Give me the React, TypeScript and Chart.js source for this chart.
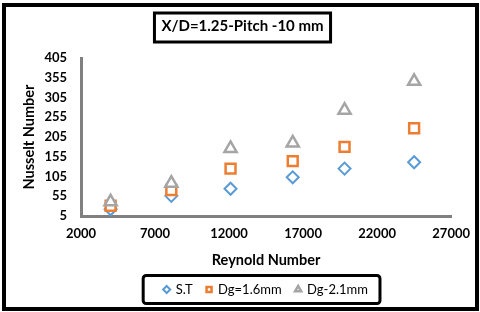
import React, { useEffect, useRef } from "react";
import { Chart, registerables } from "chart.js";

Chart.register(...registerables);

const chartTitle = "X/D=1.25-Pitch -10 mm";
const xTitle = "Reynold Number";
const yTitle = "Nusselt Number";
const reynolds = [4000, 8100, 12100, 16300, 19800, 24500];
const seriesST = [22, 56, 74, 103, 125, 141];
const seriesDg16 = [31, 71, 125, 144, 180, 227];
const seriesDg21 = [41, 88, 176, 190, 273, 346];
const xTicks = [2000, 7000, 12000, 17000, 22000, 27000];
const yTicks = [5, 55, 105, 155, 205, 255, 305, 355, 405];

const FONT = "Lato, 'Open Sans', sans-serif";
const TITLE_SIZE = 15;

const boxesPlugin = {
  id: "boxes",
  afterDraw(chart: any) {
    const ctx = chart.ctx;
    ctx.save();
    ctx.strokeStyle = "#000";
    ctx.lineWidth = 4;
    ctx.strokeRect(4, 5, 473, 304);
    const tb = chart.titleBlock;
    if (tb) {
      ctx.font = `bold ${TITLE_SIZE}px ${FONT}`;
      const w = ctx.measureText(chartTitle).width;
      const cx = tb.left + tb.width / 2;
      ctx.lineWidth = 3;
      ctx.strokeRect(cx - w / 2 - 7, 13, w + 14, 29);
    }
    const lg = chart.legend;
    if (lg && lg.legendHitBoxes && lg.legendHitBoxes.length) {
      let l = Infinity, r = -Infinity, t = Infinity, b = -Infinity;
      lg.legendHitBoxes.forEach((h: any) => {
        l = Math.min(l, h.left);
        r = Math.max(r, h.left + h.width);
        t = Math.min(t, h.top);
        b = Math.max(b, h.top + h.height);
      });
      const cy = (t + b) / 2;
      ctx.lineWidth = 3;
      ctx.beginPath();
      (ctx as any).roundRect(l - 21, cy - 14, r - l + 33, 28, 3);
      ctx.stroke();
    }
    ctx.restore();
  },
};

export default function App() {
  const ref = useRef<HTMLCanvasElement | null>(null);
  useEffect(() => {
    const toPts = (ys: number[]) => ys.map((y, i) => ({ x: reynolds[i], y }));
    const chart = new Chart(ref.current as HTMLCanvasElement, {
      type: "scatter",
      data: {
        datasets: [
          {
            label: "S.T",
            data: toPts(seriesST),
            pointStyle: "rectRot",
            pointRadius: 6,
            borderColor: "#5B9BD5",
            backgroundColor: "#ffffff",
            borderWidth: 2,
            order: 3,
          },
          {
            label: "Dg=1.6mm",
            data: toPts(seriesDg16),
            pointStyle: "rect",
            pointRadius: 7,
            borderColor: "#ED7D31",
            backgroundColor: "#ffffff",
            borderWidth: 2.5,
            order: 2,
          },
          {
            label: "Dg-2.1mm",
            data: toPts(seriesDg21),
            pointStyle: "triangle",
            pointRadius: 7,
            borderColor: "#A5A5A5",
            backgroundColor: "#ffffff",
            borderWidth: 2.5,
            order: 1,
          },
        ],
      },
      options: {
        animation: false,
        responsive: false,
        layout: { padding: { left: 21, right: 16, top: 0, bottom: 6 } },
        plugins: {
          title: {
            display: true,
            text: chartTitle,
            color: "#000",
            font: { family: FONT, size: TITLE_SIZE, weight: "bold" },
            padding: { top: 17, bottom: 23 },
          },
          legend: {
            position: "bottom",
            fullSize: false,
            labels: {
              usePointStyle: true,
              boxWidth: 5,
              boxHeight: 5,
              color: "#000",
              font: { family: FONT, size: 13 },
              padding: 14,
              sort: (a: any, b: any) => a.datasetIndex - b.datasetIndex,
            },
          },
          tooltip: { enabled: false },
        },
        scales: {
          x: {
            type: "linear",
            min: 2000,
            max: 27000,
            afterBuildTicks: (s: any) => {
              s.ticks = xTicks.map((v) => ({ value: v }));
            },
            ticks: {
              color: "#000",
              font: { family: FONT, size: 13, weight: "bold" },
              padding: 10,
              maxRotation: 0,
              autoSkip: false,
              callback: (v: any) => String(v),
            },
            grid: { display: false, drawTicks: false },
            border: { display: true, color: "#808080", width: 3 },
            title: {
              display: true,
              text: xTitle,
              color: "#000",
              font: { family: FONT, size: 14.5, weight: "bold" },
              padding: { top: 0, bottom: 0 },
            },
          },
          y: {
            type: "linear",
            min: 5,
            max: 405,
            afterBuildTicks: (s: any) => {
              s.ticks = yTicks.map((v) => ({ value: v }));
            },
            afterFit: (s: any) => {
              s.width = 60;
            },
            ticks: {
              color: "#000",
              font: { family: FONT, size: 13, weight: "bold" },
              padding: 14,
              autoSkip: false,
              callback: (v: any) => String(v),
            },
            grid: { display: false, drawTicks: false },
            border: { display: true, color: "#808080", width: 3 },
            title: {
              display: true,
              text: yTitle,
              color: "#000",
              font: { family: FONT, size: 14.5, weight: "bold" },
              padding: { top: 0, bottom: 0 },
            },
          },
        },
      },
      plugins: [boxesPlugin],
    } as any);
    return () => chart.destroy();
  }, []);
  return (
    <div style={{ position: "fixed", left: 0, top: 0, width: 480, height: 312, background: "#fff" }}>
      <canvas ref={ref} width={480} height={312} style={{ display: "block" }} />
    </div>
  );
}
